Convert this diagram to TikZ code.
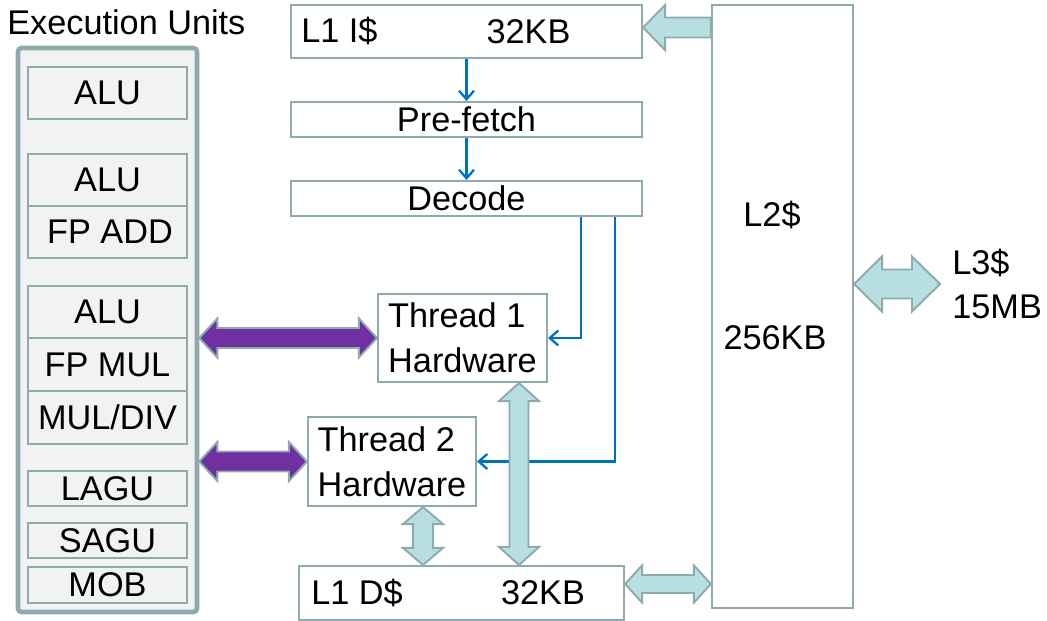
\documentclass[tikz,border=0pt]{standalone}
\usepackage{fontspec}
\setmainfont{Liberation Sans}
\usepackage{tikz}
\usetikzlibrary{calc, positioning, arrows.meta}

\definecolor{edgegray}{RGB}{143,170,172}
\definecolor{cyanfill}{RGB}{183,222,225}
\definecolor{portpurple}{RGB}{112,48,160}
\definecolor{flowblue}{RGB}{0,112,192}
\definecolor{unitfill}{RGB}{242,242,242}

\tikzset{
    cbox/.style={draw=edgegray, line width=1.2pt, fill=white, inner sep=0pt},
    unit/.style={draw=edgegray, line width=1.2pt, fill=unitfill, minimum width=3.18cm, inner sep=0pt, outer sep=0pt},
    lbl/.style={inner sep=0pt},
    flow/.style={draw=flowblue, line width=1.3pt, -{Straight Barb[length=1.7mm, width=3mm]}},
    busarrow/.style={draw=edgegray, line width=1.1pt, fill=cyanfill},
    portarrow/.style={draw=edgegray, line width=1.1pt, fill=portpurple}
}

% fat arrows: style, from, to, head length, head half width, shaft half width
\newcommand{\fatdouble}[6]{%
    \coordinate (ba) at ($(#2)!#4!(#3)$);
    \coordinate (bb) at ($(#3)!#4!(#2)$);
    \draw[#1] (#2) -- ($(ba)!#5!90:(#3)$) -- ($(ba)!#6!90:(#3)$) -- ($(bb)!#6!-90:(#2)$) -- ($(bb)!#5!-90:(#2)$)
        -- (#3) -- ($(bb)!#5!90:(#2)$) -- ($(bb)!#6!90:(#2)$) -- ($(ba)!#6!-90:(#3)$) -- ($(ba)!#5!-90:(#3)$) -- cycle;
}
\newcommand{\fatsingle}[6]{%
    \coordinate (hb) at ($(#3)!#4!(#2)$);
    \draw[#1] ($(#2)!#6!90:(#3)$) -- ($(hb)!#6!-90:(#2)$) -- ($(hb)!#5!-90:(#2)$) -- (#3)
        -- ($(hb)!#5!90:(#2)$) -- ($(hb)!#6!90:(#2)$) -- ($(#2)!#6!-90:(#3)$) -- cycle;
}

\begin{document}
\begin{tikzpicture}[font=\fontsize{19.5}{25.5}\selectfont]
        \useasboundingbox (0,0) rectangle (20.94,-12.42);

        % execution units
        \node [lbl, anchor=base west] (extitle) at (0.14,-0.70) {Execution Units};
        \node [draw=edgegray, line width=2.6pt, fill=unitfill, rounded corners=2pt, minimum width=3.58cm, minimum height=11.28cm] (ex) at (2.15,-6.6) {};
        \node [unit, minimum height=1.04cm] (alua) at (2.15,-1.86) {ALU};
        \node [unit, minimum height=1.04cm] (alub) at (2.15,-3.6) {ALU};
        \node [unit, minimum height=1.04cm, below=0cm of alub] (fpadd) {\hspace{0.1cm}FP ADD};
        \node [unit, minimum height=1.04cm] (aluc) at (2.15,-6.24) {ALU};
        \node [unit, minimum height=1.06cm, below=0cm of aluc] (fpmul) {FP MUL};
        \node [unit, minimum height=1.06cm, below=0cm of fpmul] (muldiv) {MUL/DIV};
        \node [unit, minimum height=0.70cm] (lagu) at (2.15,-9.77) {LAGU};
        \node [unit, minimum height=0.70cm] (sagu) at (2.15,-10.81) {SAGU};
        \node [unit, minimum height=0.72cm] (mob) at (2.15,-11.70) {MOB};

        % front end and threads
        \node [cbox, minimum width=7.02cm, minimum height=1.06cm] (l1i) at (9.33,-0.63) {};
        \node [lbl, anchor=west] (l1iname) at ([xshift=0.22cm]l1i.west) {L1 I\$};
        \node [lbl] (l1isize) at ([xshift=1.24cm]l1i.center) {32KB};
        \node [cbox, minimum width=7.02cm, minimum height=0.70cm] (pre) at (9.33,-2.39) {Pre-fetch};
        \node [cbox, minimum width=7.02cm, minimum height=0.70cm] (dec) at (9.33,-3.97) {Decode};
        \node [cbox, minimum width=3.38cm, minimum height=1.76cm, align=left] (t1) at (9.25,-6.76) {Thread 1\\Hardware};
        \node [cbox, minimum width=3.36cm, minimum height=1.78cm, align=left] (t2) at (7.84,-9.23) {Thread 2\\Hardware};
        \node [cbox, minimum width=6.5cm, minimum height=1.08cm] (l1d) at (9.23,-11.86) {};
        \node [lbl, anchor=west] (l1dname) at ([xshift=0.26cm]l1d.west) {L1 D\$};
        \node [lbl] (l1dsize) at ([xshift=1.63cm]l1d.center) {32KB};

        % caches
        \node [cbox, minimum width=2.82cm, minimum height=12.06cm] (l2) at (15.65,-6.13) {};
        \node [lbl] (l2name) at (15.44,-4.3) {L2\$};
        \node [lbl] (l2size) at (15.5,-6.76) {256KB};
        \node [lbl, anchor=west, align=left] (l3) at (19.04,-5.68) {L3\$\\15MB};

        \draw [flow] (l1i) -- (pre);
        \draw [flow] (pre) -- (dec);
        \draw [flow] ([xshift=2.29cm]dec.south) |- (t1.east);
        \draw [flow] ([xshift=2.97cm]dec.south) |- (t2.east);

        \coordinate (ia) at ([yshift=0.08cm]l1i.east);
        \coordinate (ib) at (l2.west |- ia);
        \fatsingle{busarrow}{ib}{ia}{0.44cm}{0.45cm}{0.2cm}
        \coordinate (da) at ([xshift=1.13cm]t1.south);
        \coordinate (db) at (da |- l1d.north);
        \fatdouble{busarrow}{da}{db}{0.36cm}{0.4cm}{0.19cm}
        \coordinate (ea) at ([xshift=0.62cm]t2.south);
        \coordinate (eb) at (ea |- l1d.north);
        \fatdouble{busarrow}{ea}{eb}{0.34cm}{0.4cm}{0.2cm}
        \coordinate (fa) at ([yshift=0.18cm]l1d.east);
        \coordinate (fb) at (l2.west |- fa);
        \fatdouble{busarrow}{fa}{fb}{0.34cm}{0.37cm}{0.18cm}
        \coordinate (ga) at (l2.east |- l3.west);
        \coordinate (gb) at ([xshift=-0.24cm]l3.west);
        \fatdouble{busarrow}{ga}{gb}{0.56cm}{0.55cm}{0.29cm}

        \coordinate (pa) at (ex.east |- t1.west);
        \fatdouble{portarrow}{pa}{t1.west}{0.36cm}{0.39cm}{0.2cm}
        \coordinate (pb) at (ex.east |- t2.west);
        \fatdouble{portarrow}{pb}{t2.west}{0.36cm}{0.39cm}{0.2cm}
\end{tikzpicture}
\end{document}
